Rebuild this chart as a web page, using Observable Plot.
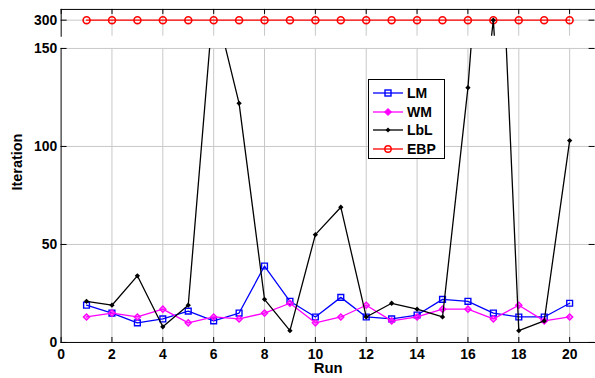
<!DOCTYPE html>
<html><head><meta charset="utf-8">
<script src="https://cdn.jsdelivr.net/npm/d3@7"></script>
<script src="https://cdn.jsdelivr.net/npm/@observablehq/plot@0.6"></script>
<style>
html,body{margin:0;padding:0;background:#fff;}
#wrap{position:relative;width:595px;height:378px;overflow:hidden;font-family:"Liberation Sans",Arial,sans-serif;}
#wrap svg{display:block;}
#legend{position:absolute;left:368px;top:79px;width:77px;height:80px;border:1px solid #000;background:#fff;box-sizing:border-box;}
.row{position:absolute;left:0;width:75px;height:18px;display:flex;align-items:center;}
.row svg{flex:0 0 32px;margin-left:4px;}
.row span{flex:0 0 auto;font-weight:bold;font-size:14px;margin-left:2px;color:#000;white-space:nowrap;}
</style></head><body><div id="wrap"></div>
<script>
const runs = [1,2,3,4,5,6,7,8,9,10,11,12,13,14,15,16,17,18,19,20];
const lm  = [19,15,10,12,16,11,15,39,21,13,23,13,12,14,22,21,15,13,13,20];
const wm  = [13,15,13,17,10,13,12,15,20,10,13,19,11,13,17,17,12,19,11,13];
const lbl = [21,19,34,8,19,175,122,22,6,55,69,13,20,17,13,130,300,6,11,103];
const ebp = [300,300,300,300,300,300,300,300,300,300,300,300,300,300,300,300,300,300,300,300];
const xTicks = [0,2,4,6,8,10,12,14,16,18,20];
const yTicksLow = [0,50,100,150];
const yTicksHigh = [300];
const seriesNames = ["LM","WM","LbL","EBP"];
const seriesColors = ["#0000ff","#ff00ff","#000000","#ff0000"];

const toRows = vals => runs.map((r,i)=>({run:r, value:vals[i]}));
const LM = toRows(lm), WM = toRows(wm), LBL = toRows(lbl), EBP = toRows(ebp);

const W = 599, ML = 61, MR = 0.4, FW = W - ML - MR;
const grid = "#c8c8c8";
const style = {fontFamily:'"Liberation Sans", Arial, sans-serif', fontSize:"14px", fontWeight:"bold", background:"transparent", color:"#000"};

const topH = 40, topMT = 9, topMB = 4, topFH = topH - topMT - topMB;
const topPlot = Plot.plot({
  width: W, height: topH, marginLeft: ML, marginRight: MR, marginTop: topMT, marginBottom: topMB,
  style,
  x: {domain: [0, 21], axis: null},
  y: {domain: [288, 308]},
  marks: [
    Plot.gridX(xTicks.filter(d => d > 0), {stroke: grid, strokeOpacity: 1}),
    Plot.gridY(yTicksHigh, {stroke: grid, strokeOpacity: 1}),
    Plot.frame({anchor: "top", stroke: "#000"}),
    Plot.frame({anchor: "left", stroke: "#000"}),
    Plot.ruleX(xTicks, {stroke: "#000", insetBottom: topFH - 5}),
    Plot.ruleY(yTicksHigh, {stroke: "#000", insetRight: FW - 6}),
    Plot.ruleY(yTicksHigh, {stroke: "#000", insetLeft: FW - 6}),
    Plot.line(EBP, {x: "run", y: "value", stroke: seriesColors[3], strokeWidth: 1.3, clip: true}),
    Plot.dot(EBP, {x: "run", y: "value", stroke: seriesColors[3], fill: "none", r: 3.5, strokeWidth: 1.6}),
    Plot.line(LBL, {x: "run", y: "value", stroke: seriesColors[2], strokeWidth: 1.3, clip: true}),
    Plot.dot(LBL, {x: "run", y: "value", fill: seriesColors[2], symbol: "diamond2", r: 2.4, clip: true}),
    Plot.axisY(yTicksHigh, {tickSize: 0, tickPadding: 4, label: null, fontSize: 14, fontWeight: "bold"})
  ]
});

const botH = 338, botMT = 8, botMB = 34, botFH = botH - botMT - botMB;
const bottomPlot = Plot.plot({
  width: W, height: botH, marginLeft: ML, marginRight: MR, marginTop: botMT, marginBottom: botMB,
  style,
  x: {domain: [0, 21]},
  y: {domain: [0, 150]},
  marks: [
    Plot.gridX(xTicks.filter(d => d > 0), {stroke: grid, strokeOpacity: 1}),
    Plot.gridY(yTicksLow.filter(d => d > 0), {stroke: grid, strokeOpacity: 1}),
    Plot.frame({anchor: "left", stroke: "#000"}),
    Plot.frame({anchor: "bottom", stroke: "#000"}),
    Plot.ruleX(xTicks, {stroke: "#000", insetTop: botFH - 5}),
    Plot.ruleY(yTicksLow, {stroke: "#000", insetRight: FW - 6}),
    Plot.ruleY(yTicksLow, {stroke: "#000", insetLeft: FW - 6}),
    Plot.line(LM, {x: "run", y: "value", stroke: seriesColors[0], strokeWidth: 1.3, clip: true}),
    Plot.dot(LM, {x: "run", y: "value", stroke: seriesColors[0], fill: "none", symbol: "square", r: 3.3, strokeWidth: 1.4, clip: true}),
    Plot.line(WM, {x: "run", y: "value", stroke: seriesColors[1], strokeWidth: 1.3, clip: true}),
    Plot.dot(WM, {x: "run", y: "value", stroke: seriesColors[1], fill: seriesColors[1], fillOpacity: 0.35, symbol: "diamond2", r: 2.8, strokeWidth: 1.4, clip: true}),
    Plot.line(LBL, {x: "run", y: "value", stroke: seriesColors[2], strokeWidth: 1.3, clip: true}),
    Plot.dot(LBL, {x: "run", y: "value", fill: seriesColors[2], symbol: "diamond2", r: 2.4, clip: true}),
    Plot.axisX(xTicks, {tickSize: 0, tickPadding: 7, label: null, fontSize: 14, fontWeight: "bold"}),
    Plot.axisY(yTicksLow, {tickSize: 0, tickPadding: 4, label: null, fontSize: 14, fontWeight: "bold"}),
    Plot.text(["Iteration"], {frameAnchor: "left", rotate: -90, dx: -44, dy: -5, fontSize: 14.5, fontWeight: "bold", fill: "#000"}),
    Plot.text(["Run"], {frameAnchor: "bottom", lineAnchor: "middle", dy: 26, fontSize: 15, fontWeight: "bold", fill: "#000"})
  ]
});

const wrap = document.getElementById("wrap");
wrap.appendChild(topPlot);
wrap.appendChild(bottomPlot);

// legend
const legend = document.createElement("div");
legend.id = "legend";
const rowTops = [4, 23, 41, 60];
seriesNames.forEach((name, i) => {
  const row = document.createElement("div");
  row.className = "row";
  row.style.top = rowTops[i] + "px";
  const c = seriesColors[i];
  let marker = "";
  if (i === 0) marker = `<rect x="12" y="6" width="6" height="6" fill="none" stroke="${c}" stroke-width="1.4"/>`;
  if (i === 1) marker = `<path d="M15,5.5 L18.5,9 L15,12.5 L11.5,9 Z" fill="${c}" stroke="${c}" stroke-width="1"/>`;
  if (i === 2) marker = `<path d="M15,6.5 L17.5,9 L15,11.5 L12.5,9 Z" fill="${c}"/>`;
  if (i === 3) marker = `<circle cx="15" cy="9" r="3.2" fill="none" stroke="${c}" stroke-width="1.4"/>`;
  row.innerHTML = `<svg width="32" height="18" style="display:block"><line x1="0" x2="30" y1="9" y2="9" stroke="${c}" stroke-width="1.3"/>${marker}</svg><span>${name}</span>`;
  legend.appendChild(row);
});
wrap.appendChild(legend);
</script></body></html>
